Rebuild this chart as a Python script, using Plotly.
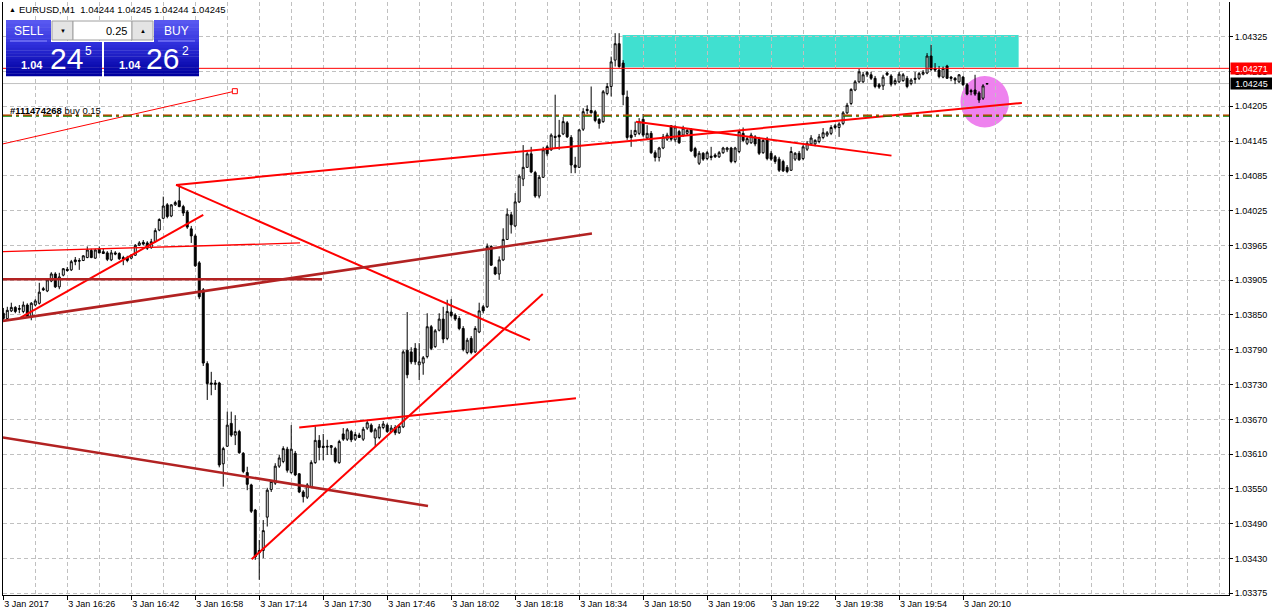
import plotly.graph_objects as go

# ---------------- data (EURUSD M1, 3 Jan 2017, bars from 16:10) ----------------
open_ = [1.03853,1.03844,1.03857,1.03863,1.03861,1.03856,1.03867,1.03847,1.03867,1.03870,
1.03895,1.03891,1.03908,1.03920,1.03898,1.03918,1.03928,1.03927,1.03944,1.03943,
1.03943,1.03948,1.03960,1.03947,1.03962,1.03958,1.03956,1.03944,1.03956,1.03955,
1.03948,1.03948,1.03947,1.03952,1.03969,1.03974,1.03973,1.03965,1.03975,1.03995,
1.04015,1.04038,1.04019,1.04038,1.04045,1.04035,1.04026,1.03997,1.03985,1.03939,
1.03893,1.03767,1.03734,1.03734,1.03734,1.03596,1.03626,1.03665,1.03645,1.03651,
1.03614,1.03581,1.03560,1.03517,1.03444,1.03448,1.03505,1.03552,1.03563,1.03592,
1.03600,1.03621,1.03581,1.03614,1.03579,1.03548,1.03539,1.03557,1.03598,1.03636,
1.03626,1.03626,1.03624,1.03622,1.03598,1.03647,1.03638,1.03651,1.03638,1.03645,
1.03638,1.03657,1.03662,1.03640,1.03641,1.03658,1.03662,1.03651,1.03658,1.03649,
1.03659,1.03790,1.03787,1.03793,1.03765,1.03768,1.03779,1.03830,1.03796,1.03824,
1.03843,1.03810,1.03855,1.03850,1.03844,1.03827,1.03786,1.03810,1.03787,1.03821,
1.03864,1.03864,1.03967,1.03931,1.03920,1.03944,1.03979,1.04021,1.04002,1.04043,
1.04082,1.04102,1.04125,1.04093,1.04053,1.04085,1.04137,1.04132,1.04155,1.04157,
1.04159,1.04178,1.04153,1.04106,1.04102,1.04167,1.04201,1.04199,1.04197,1.04184,
1.04180,1.04228,1.04240,1.04285,1.04313,1.04280,1.04222,1.04157,1.04158,1.04160,
1.04184,1.04152,1.04160,1.04127,1.04119,1.04135,1.04150,1.04173,1.04149,1.04163,
1.04157,1.04160,1.04166,1.04134,1.04109,1.04126,1.04117,1.04121,1.04123,1.04120,
1.04127,1.04132,1.04135,1.04112,1.04129,1.04160,1.04143,1.04144,1.04154,1.04150,
1.04127,1.04150,1.04126,1.04120,1.04116,1.04112,1.04102,1.04097,1.04116,1.04126,
1.04117,1.04133,1.04142,1.04142,1.04146,1.04153,1.04157,1.04160,1.04170,1.04170,
1.04177,1.04195,1.04211,1.04234,1.04248,1.04248,1.04260,1.04260,1.04254,1.04243,
1.04241,1.04263,1.04258,1.04245,1.04248,1.04250,1.04254,1.04245,1.04254,1.04254,
1.04261,1.04263,1.04292,1.04271,1.04268,1.04256,1.04275,1.04256,1.04254,1.04248,
1.04256,1.04243,1.04233,1.04234,1.04229,1.04220,1.04244]
high = [1.03862,1.03864,1.03871,1.03865,1.03867,1.03873,1.03870,1.03872,1.03877,1.03905,
1.03898,1.03911,1.03923,1.03923,1.03922,1.03930,1.03932,1.03944,1.03949,1.03947,
1.03952,1.03967,1.03963,1.03963,1.03967,1.03963,1.03959,1.03961,1.03959,1.03957,
1.03951,1.03951,1.03954,1.03971,1.03976,1.03978,1.03976,1.03980,1.03998,1.04015,
1.04052,1.04041,1.04039,1.04045,1.04072,1.04038,1.04029,1.04002,1.03988,1.03942,
1.03896,1.03771,1.03753,1.03739,1.03736,1.03625,1.03685,1.03685,1.03679,1.03654,
1.03616,1.03591,1.03562,1.03519,1.03466,1.03500,1.03555,1.03568,1.03597,1.03611,
1.03626,1.03625,1.03662,1.03618,1.03580,1.03551,1.03563,1.03602,1.03660,1.03645,
1.03647,1.03637,1.03628,1.03625,1.03637,1.03657,1.03657,1.03654,1.03650,1.03649,
1.03659,1.03669,1.03665,1.03657,1.03664,1.03669,1.03665,1.03662,1.03662,1.03664,
1.03790,1.03855,1.03795,1.03802,1.03802,1.03780,1.03853,1.03833,1.03826,1.03853,
1.03864,1.03876,1.03877,1.03853,1.03848,1.03831,1.03811,1.03814,1.03831,1.03871,
1.03867,1.03972,1.03969,1.03933,1.03950,1.03998,1.04032,1.04026,1.04058,1.04090,
1.04140,1.04128,1.04137,1.04096,1.04089,1.04137,1.04140,1.04160,1.04226,1.04183,
1.04188,1.04181,1.04157,1.04120,1.04167,1.04203,1.04208,1.04240,1.04200,1.04186,
1.04234,1.04246,1.04291,1.04331,1.04331,1.04285,1.04233,1.04166,1.04180,1.04186,
1.04193,1.04174,1.04164,1.04131,1.04137,1.04159,1.04161,1.04174,1.04174,1.04166,
1.04173,1.04169,1.04169,1.04137,1.04130,1.04128,1.04130,1.04137,1.04126,1.04130,
1.04137,1.04137,1.04137,1.04137,1.04166,1.04170,1.04155,1.04161,1.04157,1.04154,
1.04150,1.04154,1.04130,1.04123,1.04120,1.04115,1.04106,1.04137,1.04128,1.04130,
1.04140,1.04147,1.04157,1.04150,1.04159,1.04169,1.04164,1.04174,1.04176,1.04179,
1.04198,1.04212,1.04237,1.04251,1.04270,1.04265,1.04266,1.04265,1.04258,1.04246,
1.04260,1.04265,1.04261,1.04254,1.04265,1.04263,1.04258,1.04254,1.04265,1.04265,
1.04268,1.04297,1.04311,1.04280,1.04275,1.04274,1.04277,1.04258,1.04256,1.04261,
1.04258,1.04246,1.04236,1.04260,1.04232,1.04244,1.04245]
low = [1.03841,1.03843,1.03855,1.03853,1.03853,1.03853,1.03845,1.03841,1.03865,1.03868,
1.03891,1.03889,1.03906,1.03896,1.03894,1.03916,1.03924,1.03925,1.03935,1.03927,
1.03942,1.03947,1.03947,1.03946,1.03955,1.03954,1.03942,1.03942,1.03952,1.03944,
1.03935,1.03940,1.03945,1.03951,1.03968,1.03969,1.03961,1.03963,1.03974,1.03993,
1.04014,1.04015,1.04017,1.04036,1.04034,1.04019,1.03997,1.03973,1.03932,1.03877,
1.03763,1.03705,1.03713,1.03722,1.03590,1.03557,1.03625,1.03642,1.03628,1.03613,
1.03580,1.03551,1.03512,1.03432,1.03398,1.03435,1.03489,1.03548,1.03560,1.03589,
1.03597,1.03581,1.03579,1.03575,1.03546,1.03530,1.03536,1.03555,1.03596,1.03602,
1.03602,1.03611,1.03611,1.03597,1.03596,1.03635,1.03635,1.03633,1.03635,1.03640,
1.03635,1.03654,1.03649,1.03626,1.03638,1.03655,1.03649,1.03649,1.03645,1.03647,
1.03657,1.03742,1.03766,1.03765,1.03739,1.03748,1.03776,1.03790,1.03794,1.03822,
1.03802,1.03807,1.03846,1.03840,1.03824,1.03788,1.03783,1.03783,1.03785,1.03819,
1.03853,1.03862,1.03934,1.03918,1.03910,1.03942,1.03978,1.03989,1.04000,1.04041,
1.04070,1.04101,1.04092,1.04050,1.04049,1.04084,1.04121,1.04130,1.04135,1.04132,
1.04157,1.04152,1.04092,1.04092,1.04101,1.04164,1.04193,1.04194,1.04179,1.04168,
1.04178,1.04225,1.04223,1.04274,1.04272,1.04208,1.04149,1.04137,1.04154,1.04157,
1.04154,1.04150,1.04125,1.04112,1.04112,1.04133,1.04147,1.04147,1.04145,1.04142,
1.04154,1.04157,1.04128,1.04118,1.04106,1.04113,1.04114,1.04114,1.04118,1.04118,
1.04125,1.04128,1.04109,1.04109,1.04126,1.04145,1.04140,1.04142,1.04138,1.04123,
1.04125,1.04114,1.04113,1.04108,1.04094,1.04094,1.04092,1.04096,1.04113,1.04113,
1.04114,1.04130,1.04140,1.04138,1.04143,1.04150,1.04154,1.04157,1.04167,1.04154,
1.04174,1.04193,1.04208,1.04232,1.04246,1.04246,1.04256,1.04251,1.04237,1.04236,
1.04234,1.04258,1.04240,1.04242,1.04246,1.04248,1.04237,1.04242,1.04245,1.04251,
1.04259,1.04261,1.04266,1.04265,1.04254,1.04254,1.04253,1.04249,1.04244,1.04246,
1.04241,1.04225,1.04225,1.04224,1.04212,1.04217,1.04244]
close = [1.03844,1.03858,1.03863,1.03856,1.03860,1.03867,1.03847,1.03870,1.03874,1.03889,
1.03893,1.03910,1.03920,1.03898,1.03915,1.03929,1.03926,1.03941,1.03941,1.03942,
1.03951,1.03961,1.03948,1.03961,1.03956,1.03955,1.03945,1.03956,1.03954,1.03946,
1.03946,1.03943,1.03952,1.03969,1.03973,1.03971,1.03964,1.03975,1.03994,1.04013,
1.04036,1.04018,1.04038,1.04042,1.04035,1.04024,1.04000,1.03985,1.03934,1.03881,
1.03768,1.03733,1.03732,1.03732,1.03594,1.03622,1.03662,1.03645,1.03651,1.03615,
1.03583,1.03561,1.03515,1.03437,1.03448,1.03482,1.03551,1.03566,1.03592,1.03606,
1.03622,1.03585,1.03621,1.03577,1.03548,1.03540,1.03560,1.03598,1.03636,1.03624,
1.03624,1.03625,1.03627,1.03600,1.03634,1.03638,1.03654,1.03637,1.03646,1.03641,
1.03655,1.03666,1.03651,1.03654,1.03659,1.03664,1.03651,1.03657,1.03649,1.03660,
1.03787,1.03748,1.03770,1.03770,1.03770,1.03777,1.03830,1.03793,1.03823,1.03843,
1.03809,1.03856,1.03849,1.03843,1.03827,1.03791,1.03807,1.03786,1.03827,1.03857,
1.03857,1.03967,1.03935,1.03920,1.03944,1.03979,1.04022,1.04004,1.04043,1.04087,
1.04102,1.04125,1.04094,1.04053,1.04085,1.04132,1.04125,1.04157,1.04153,1.04154,
1.04180,1.04154,1.04106,1.04102,1.04166,1.04197,1.04199,1.04195,1.04182,1.04177,
1.04231,1.04240,1.04282,1.04313,1.04274,1.04226,1.04153,1.04153,1.04165,1.04180,
1.04157,1.04160,1.04127,1.04119,1.04135,1.04154,1.04157,1.04150,1.04171,1.04144,
1.04169,1.04165,1.04130,1.04121,1.04126,1.04116,1.04127,1.04119,1.04120,1.04127,
1.04135,1.04135,1.04112,1.04135,1.04163,1.04148,1.04151,1.04157,1.04142,1.04126,
1.04148,1.04117,1.04116,1.04112,1.04097,1.04096,1.04095,1.04129,1.04126,1.04115,
1.04137,1.04143,1.04152,1.04148,1.04154,1.04161,1.04161,1.04170,1.04173,1.04176,
1.04195,1.04208,1.04235,1.04248,1.04265,1.04260,1.04264,1.04254,1.04240,1.04239,
1.04256,1.04260,1.04244,1.04250,1.04261,1.04260,1.04240,1.04251,1.04252,1.04262,
1.04264,1.04292,1.04269,1.04268,1.04257,1.04271,1.04254,1.04254,1.04251,1.04260,
1.04243,1.04227,1.04231,1.04227,1.04217,1.04241,1.04245]
bar_index = list(range(len(open_)))   # one bar per minute, 0 = 16:10

x_tick_bars = [0, 16, 32, 48, 64, 80, 96, 112, 128, 144, 160, 176, 192, 208, 224, 240]
x_tick_labels = ["3 Jan 2017", "3 Jan 16:26", "3 Jan 16:42", "3 Jan 16:58", "3 Jan 17:14",
                 "3 Jan 17:30", "3 Jan 17:46", "3 Jan 18:02", "3 Jan 18:18", "3 Jan 18:34",
                 "3 Jan 18:50", "3 Jan 19:06", "3 Jan 19:22", "3 Jan 19:38", "3 Jan 19:54",
                 "3 Jan 20:10"]
x_grid_bars = [8 * k for k in range(39) if (8 * k) not in x_tick_bars]

y_tick_labels = ["1.04325", "1.04265", "1.04205", "1.04145", "1.04085", "1.04025", "1.03965",
                 "1.03905", "1.03850", "1.03790", "1.03730", "1.03670", "1.03610", "1.03550",
                 "1.03490", "1.03430", "1.03375"]
y_top_label, y_bottom_label = 1.04325, 1.03375

# drawn objects (trend lines): bar position and price of both ends
tl_x0 = [43.2, 43.2, 4.2, -0.1, -0.1, -0.1, -0.1, 62.1, 74.0, 158.2, -0.1]
tl_y0 = [1.04072, 1.04072, 1.03845, 1.03958, 1.03911, 1.03840, 1.03641, 1.03433, 1.03658, 1.04180, 1.04142]
tl_x1 = [254.7, 131.7, 50.0, 74.2, 79.7, 147.2, 106.2, 134.9, 143.2, 222.1, 57.9]
tl_y1 = [1.04212, 1.03807, 1.04021, 1.03973, 1.03911, 1.03989, 1.03524, 1.03886, 1.03708, 1.04122, 1.04232]
tl_color = ["#FF0000", "#FF0000", "#FF0000", "#FF0000", "#B22222", "#B22222", "#B22222",
            "#FF0000", "#FF0000", "#FF0000", "#FF0000"]
tl_width = [2, 2, 2, 1.3, 2.6, 2.6, 2.6, 2, 2, 2, 1]

rect_bars = [154.85, 253.9]
rect_prices = [1.04273, 1.04328]
ellipse_bars = [239.35, 251.5]
ellipse_prices = [1.04170, 1.04258]
hline_price = 1.04271
bid_price = 1.04245
order_price = 1.04190

# ---------------- geometry ----------------
W, H = 1272, 616
ML, MR, MT, MB = 3, 43, 2, 21
PW, PH = W - ML - MR, H - MT - MB
Y_RANGE = [1.033721, 1.043842]
X_RANGE = [-0.075, 306.5]
FONT = "Liberation Sans, Arial, sans-serif"


def xp(px):
    return (px - ML) / PW


def yp(py):
    return 1 - (py - MT) / PH


fig = go.Figure()

fig.add_trace(go.Candlestick(
    x=bar_index, open=open_, high=high, low=low, close=close,
    increasing=dict(line=dict(color="black", width=1), fillcolor="white"),
    decreasing=dict(line=dict(color="black", width=1), fillcolor="black"),
    whiskerwidth=0, hoverinfo="skip", showlegend=False))

for x0, y0, x1, y1, c, w in zip(tl_x0, tl_y0, tl_x1, tl_y1, tl_color, tl_width):
    fig.add_trace(go.Scatter(x=[x0, x1], y=[y0, y1], mode="lines",
                             line=dict(color=c, width=w), hoverinfo="skip", showlegend=False))

# selection handle at end of thin line
fig.add_trace(go.Scatter(x=[tl_x1[-1]], y=[tl_y1[-1]], mode="markers",
                         marker=dict(symbol="square", size=5, color="white",
                                     line=dict(color="#FF0000", width=1)),
                         hoverinfo="skip", showlegend=False))

shapes = []
shapes.append(dict(type="rect", xref="x", yref="y", x0=rect_bars[0], x1=rect_bars[1],
                   y0=rect_prices[0], y1=rect_prices[1], fillcolor="#40E0D0",
                   line=dict(width=0), layer="below"))
shapes.append(dict(type="circle", xref="x", yref="y", x0=ellipse_bars[0], x1=ellipse_bars[1],
                   y0=ellipse_prices[0], y1=ellipse_prices[1], fillcolor="#EE82EE",
                   line=dict(width=0), layer="below"))
shapes.append(dict(type="line", xref="paper", yref="y", x0=0, x1=1, y0=bid_price, y1=bid_price,
                   line=dict(color="#C0C0C0", width=1), layer="below"))
shapes.append(dict(type="line", xref="paper", yref="y", x0=0, x1=1, y0=hline_price, y1=hline_price,
                   line=dict(color="#FF0000", width=1), layer="above"))
shapes.append(dict(type="line", xref="paper", yref="y", x0=0, x1=1, y0=order_price, y1=order_price,
                   line=dict(color="#008000", width=2, dash="9px,4px,3px,4px"), layer="above"))
shapes.append(dict(type="line", xref="paper", yref="y", x0=0, x1=1, y0=order_price + 0.000012,
                   y1=order_price + 0.000012,
                   line=dict(color="#FF3300", width=1, dash="9px,4px,3px,4px"), layer="above"))


def grad_rect(x0, x1, y0, y1, ctop, cbot, n=10):
    def hx(c):
        return [int(c[i:i + 2], 16) for i in (1, 3, 5)]
    a, b = hx(ctop), hx(cbot)
    h = (y1 - y0) / n
    for k in range(n):
        t = k / (n - 1)
        col = "rgb(%d,%d,%d)" % tuple(round(a[j] + (b[j] - a[j]) * t) for j in range(3))
        shapes.append(dict(type="rect", xref="paper", yref="paper",
                           x0=xp(x0), x1=xp(x1), y0=yp(y0 + h * (k + 1) + 0.3), y1=yp(y0 + h * k),
                           fillcolor=col, line=dict(width=0), layer="above"))


# one-click trading panel
grad_rect(6, 51, 20, 42, "#5858F0", "#3A3AE0", 6)
grad_rect(154, 199, 20, 42, "#5858F0", "#3A3AE0", 6)
grad_rect(6, 102, 42, 76, "#3030DC", "#0000A0", 12)
grad_rect(104, 199, 42, 76, "#3030DC", "#0000A0", 12)
for (a, b, c) in [(52, 73, "#E4E4E4"), (73, 132, "#FFFFFF"), (132, 153, "#E4E4E4")]:
    shapes.append(dict(type="rect", xref="paper", yref="paper", x0=xp(a), x1=xp(b),
                       y0=yp(40), y1=yp(21), fillcolor=c,
                       line=dict(color="#A0A0A0", width=1), layer="above"))
for (a, b) in [(10, 47), (158, 195)]:
    shapes.append(dict(type="line", xref="paper", yref="paper", x0=xp(a), x1=xp(b),
                       y0=yp(41), y1=yp(41), line=dict(color="#9090FF", width=1), layer="above"))

ann = []


def txt(text, x, y, size, color="black", xanchor="left", bold=False):
    ann.append(dict(text=("<b>%s</b>" % text) if bold else text, x=xp(x), y=yp(y),
                    xref="paper", yref="paper", xanchor=xanchor, yanchor="middle",
                    showarrow=False, font=dict(family=FONT, size=size, color=color)))


txt("▲", 7, 10, 7)
txt("EURUSD,M1  1.04244 1.04245 1.04244 1.04245", 17, 10, 9.5)
txt("SELL", 28.5, 31, 12, "white", "center")
txt("BUY", 176.5, 31, 12, "white", "center")
txt("▼", 62.5, 30.5, 6, "black", "center")
txt("▲", 142.5, 30.5, 6, "black", "center")
txt("0.25", 129, 30.5, 11, "black", "right")
txt("1.04", 32, 65, 11, "white", "center", True)
txt("24", 66, 58, 30, "white", "center")
txt("5", 88, 51, 12, "white", "center")
txt("1.04", 130, 65, 11, "white", "center", True)
txt("26", 162, 58, 30, "white", "center")
txt("2", 185, 51, 12, "white", "center")
txt("<b>#111474268</b> buy 0.15", 8, 110, 9.5)

# price labels on the axis
for price, bg in [(hline_price, "#FF0000"), (bid_price, "#000000")]:
    ann.append(dict(text="%.5f" % price, x=1, xref="paper", y=price, yref="y",
                    xanchor="left", yanchor="middle", xshift=1, showarrow=False,
                    bgcolor=bg, borderpad=0, width=41, height=11, align="center",
                    font=dict(family=FONT, size=9, color="white")))

step = (y_bottom_label - y_top_label) / (len(y_tick_labels) - 1)
y_tick_vals = [y_top_label + k * step for k in range(len(y_tick_labels))]

fig.update_layout(
    width=W, height=H, autosize=False,
    margin=dict(l=ML, r=MR, t=MT, b=MB, pad=0),
    paper_bgcolor="white", plot_bgcolor="white",
    shapes=shapes, annotations=ann, showlegend=False,
    font=dict(family=FONT, size=9, color="black"),
    xaxis=dict(range=X_RANGE, rangeslider=dict(visible=False), tickmode="array",
               tickvals=x_tick_bars, ticktext=x_tick_labels, ticks="outside", ticklen=4,
               tickcolor="black", ticklabelposition="outside right",
               tickfont=dict(family=FONT, size=9, color="black"),
               showgrid=True, gridcolor="#C0C0C0", griddash="4px,3px", gridwidth=1,
               minor=dict(tickmode="array", tickvals=x_grid_bars, showgrid=True,
                          gridcolor="#C0C0C0", griddash="4px,3px", gridwidth=1, ticks=""),
               showline=True, linecolor="black", linewidth=1, mirror=False,
               zeroline=False, fixedrange=True),
    yaxis=dict(range=Y_RANGE, side="right", tickmode="array", tickvals=y_tick_vals,
               ticktext=y_tick_labels, ticks="outside", ticklen=3, tickcolor="black",
               tickfont=dict(family=FONT, size=9, color="black"),
               showgrid=True, gridcolor="#C0C0C0", griddash="4px,3px", gridwidth=1,
               showline=True, linecolor="black", linewidth=1, mirror=True,
               zeroline=False, fixedrange=True),
)

fig.write_html("out.html", config={"displayModeBar": False},
               post_script="document.body.style.margin='0px';document.body.style.padding='0px';")
